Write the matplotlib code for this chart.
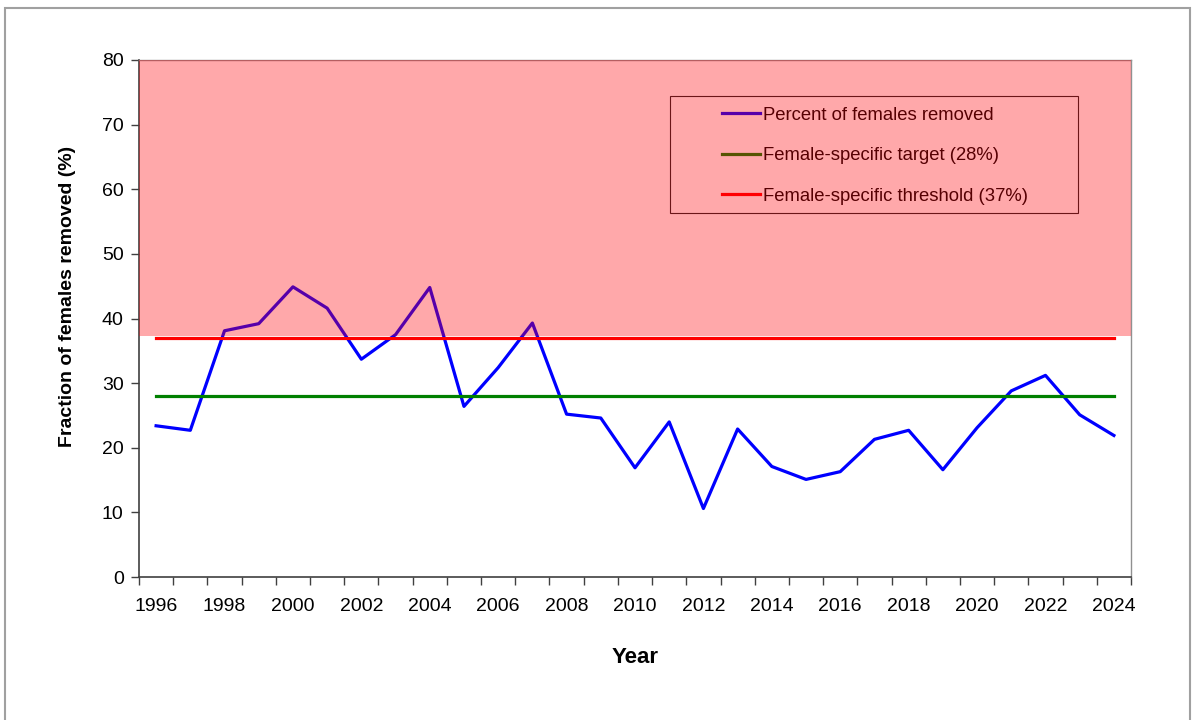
#!/usr/bin/env python3
# coding: utf-8

import matplotlib
matplotlib.use('Agg')
import matplotlib.pyplot as plt
from matplotlib.patches import Rectangle
import numpy as np

plt.rcParams['font.family'] = ['Liberation Sans', 'DejaVu Sans']

years = list(range(1996, 2025))
removed = [23.4, 22.7, 38.1, 39.2, 44.9, 41.6, 33.7, 37.5, 44.8, 26.4,
           32.4, 39.3, 25.2, 24.6, 16.9, 24.0, 10.6, 22.9, 17.1, 15.1,
           16.3, 21.3, 22.7, 16.6, 23.1, 28.8, 31.2, 25.1, 21.9]
target = 28
threshold = 37
shade_low, shade_high = 37.3, 80

series_labels = ['Percent of females removed',
                 'Female-specific target (28%)',
                 'Female-specific threshold (37%)']

fig = plt.figure(figsize=(11.94, 7.2), dpi=100)
ax = fig.add_axes([139 / 1194, 1 - 577 / 720, 992 / 1194, 517 / 720])

x = np.arange(len(years))
l1, = ax.plot(x, removed, color='#0000ff', lw=2.3, zorder=3)
l2, = ax.plot(x, [target] * len(x), color='#008000', lw=2.3, zorder=3)
l3, = ax.plot(x, [threshold] * len(x), color='#ff0000', lw=2.3, zorder=3)

# pink zone is a see-through red laid over everything, legend too
ax.axhspan(shade_low, shade_high, color='#ff0008', alpha=0.34, lw=0, zorder=20)

leg = ax.legend([l1, l2, l3], series_labels, loc='upper left',
                bbox_to_anchor=(0.5877, 0.9097), frameon=False, fontsize=13.3,
                handlelength=2.05, handletextpad=0.16, labelspacing=1.27,
                borderpad=0, borderaxespad=0)
leg.set_zorder(5)
ax.add_patch(Rectangle((0.535, 0.704), 0.4116, 0.226, transform=ax.transAxes,
                       fill=False, ec='#202020', lw=0.8, zorder=6))

ax.set_xlim(-0.5, len(years) - 0.5)
ax.set_ylim(0, 80)
ax.set_yticks(range(0, 81, 10))
ax.set_xticks(x[::2])
ax.set_xticklabels([str(y) for y in years[::2]])
ax.set_xticks(np.arange(-0.5, len(years), 1), minor=True)
ax.tick_params(axis='x', which='major', length=0, labelsize=14, pad=15)
ax.tick_params(axis='x', which='minor', length=6, width=1, color='#404040')
ax.tick_params(axis='y', length=6, width=1, color='#404040', labelsize=14, pad=5)

ax.set_xlabel('Year', fontsize=16, fontweight='bold')
ax.xaxis.set_label_coords(0.5, -0.135)
ax.set_ylabel('Fraction of females removed (%)', fontsize=14, fontweight='bold')
ax.yaxis.set_label_coords(-0.0635, 0.5435)

for s in ['left', 'bottom']:
    ax.spines[s].set_color('#404040')
    ax.spines[s].set_linewidth(1.2)
for s in ['top', 'right']:
    ax.spines[s].set_color('#909090')
    ax.spines[s].set_linewidth(1)

# outer frame of the picture
fig.patches.append(Rectangle((5 / 1194, -0.01), 1185 / 1194, 1 - 8 / 720 + 0.01,
                             transform=fig.transFigure, fill=False,
                             ec='#a0a0a0', lw=1.5))

fig.savefig('out.png', dpi=100)
